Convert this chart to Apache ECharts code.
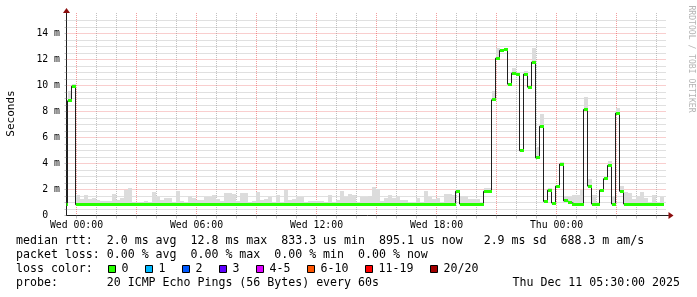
<!DOCTYPE html>
<html><head><meta charset="utf-8">
<script src="https://cdn.jsdelivr.net/npm/echarts@6/dist/echarts.min.js"></script>
<style>html,body{margin:0;padding:0;background:#fff}#c{width:697px;height:297px}</style>
</head><body><div id="c"></div>
<script>
// ---- data (12-minute steps, hours relative to Wed 00:00) ----
const startHour = -0.65;   // start of first step
const stepHours = 0.2;     // 12 minutes
const medianRtt = [
  0.88, 8.82, 9.95,
  0.83,0.83,0.83,0.83,0.83, 0.88, 0.83,0.83,
  0.88,0.88,0.88,0.88,0.88,0.88,0.88,0.88,0.88,0.88,0.88,0.88,
  0.83,0.83,0.83,0.83,0.83, 0.88, 0.83,
  0.88,0.88,0.88,0.88,0.88,0.88,0.88,0.88,0.88,0.88,0.88,0.88,0.88,0.88,
  0.88,0.88,0.88,0.88,0.88,0.88,0.88,0.88,0.88,0.88,0.88,0.88,0.88,0.88,
  0.83,0.83,0.83,0.83,0.83,0.83,0.83,0.83,0.83,0.83,0.83,0.83,0.83,0.83,
  0.88,0.88,0.88, 0.83, 0.88,0.88,0.88,0.88,0.88,0.88,0.88, 0.83, 0.88,0.88, 0.83,
  0.88,0.88, 0.83, 0.88,0.88,0.88, 0.83,0.83, 0.88,0.88,0.88,
  1.87,
  0.88,0.88,0.88,0.88,0.88,0.88,
  1.86,1.86,
  8.9,12.1,12.7,12.8,10.1,10.95,10.88,4.98,10.88,9.87,11.8,4.43,6.87,
  1.08,1.95,0.96,2.26,3.96,1.12,1.0,0.88,0.88,0.88,8.16,2.26,0.88,0.88,
  1.95,2.83,3.86,0.88,7.88,1.86,
  0.88,0.88,0.88,0.88,0.88,0.88,0.88,0.88,0.88,0.88
];
const smokeTop = [
  0.9, 9.6, 10.15,
  1.54,1.28,1.54,1.28,1.33,1.21,1.15,1.08,1.08,1.67,1.23,1.33,2.0,2.15,1.03,0.97,
  1.03,1.08,1.03,1.79,1.41,1.23,1.33,1.33,1.03,1.87,1.08,0.97,1.49,1.33,1.23,1.23,
  1.41,1.41,1.54,1.28,1.15,1.74,1.74,1.67,1.15,1.74,1.74,1.03,1.08,1.79,1.23,1.28,
  1.41,1.03,1.54,0.97,2.0,1.23,1.28,1.41,1.41,1.03,1.08,1.08,1.15,1.15,1.03,1.54,
  1.03,1.23,1.85,1.41,1.67,1.54,0.97,1.41,1.41,1.49,2.18,2.05,1.15,1.33,1.59,1.33,
  1.49,1.23,1.23,0.97,0.97,1.33,1.03,1.85,1.41,1.28,1.33,0.97,1.67,1.67,1.54,2.05,
  1.49,1.49,
  1.3,1.25,1.3,0.95,2.15,2.15,9.55,12.85,12.8,12.88,10.2,11.35,10.95,5.05,11.15,
  9.95,12.9,5.3,7.8,1.15,2.1,1.0,2.3,4.1,1.5,1.42,1.55,1.55,2.0,9.12,2.8,1.55,0.9,
  1.98,2.88,4.2,1.5,8.25,2.25,1.8,1.72,1.3,1.47,1.8,1.35,0.9,1.55,0.9,1.42
];
const xTickLabels = ['Wed 00:00','Wed 06:00','Wed 12:00','Wed 18:00','Thu 00:00'];
const yTickLabels = ['0  ','2 m','4 m','6 m','8 m','10 m','12 m','14 m'];
const lossLegend = [['0','#26ff00'],['1','#00b8ff'],['2','#0059ff'],['3','#5e00ff'],
  ['4-5','#dd00ff'],['6-10','#ff5500'],['11-19','#ff0000'],['20/20','#a10000']];
const legendRows = [
  'median rtt:  2.0 ms avg  12.8 ms max  833.3 us min  895.1 us now   2.9 ms sd  688.3 m am/s',
  'packet loss: 0.00 % avg  0.00 % max  0.00 % min  0.00 % now',
  'loss color:',
  'probe:       20 ICMP Echo Pings (56 Bytes) every 60s'
];
const dateStamp = 'Thu Dec 11 05:30:00 2025';

// ---- build ----
const MONO = '"DejaVu Sans Mono", monospace';
const n = medianRtt.length;
const t = i => startHour + i * stepHours;
const smokeData = medianRtt.map((m, i) => [t(i), t(i + 1), m, smokeTop[i]]);
const bandData = medianRtt.map((m, i) => [t(i), t(i + 1), m]);
const lineData = medianRtt.map((m, i) => [t(i), m]);
lineData.push([t(n), medianRtt[n - 1]]);

const GRID_C = 'rgba(143,143,143,0.55)';
const MGRID_C = 'rgba(233,59,59,0.5)';

function clip(r, cs) {
  return echarts.graphic.clipRectByRect(r, {x: cs.x, y: cs.y, width: cs.width, height: cs.height});
}

const chart = echarts.init(document.getElementById('c'), null, {width: 697, height: 297});

const graphics = [];
const rowY = [241, 255, 269, 283];
legendRows.forEach((s, i) => graphics.push({type: 'text', x: 16, y: rowY[i], silent: true,
  style: {text: s, font: '11.6px ' + MONO, fill: '#000', verticalAlign: 'middle', align: 'left'}}));
graphics.push({type: 'text', x: 680, y: rowY[3], style: {text: dateStamp, font: '11.6px ' + MONO,
  fill: '#000', verticalAlign: 'middle', align: 'right'}});
let bx = 108.5;
lossLegend.forEach(([lab, col]) => {
  graphics.push({type: 'rect', shape: {x: bx, y: 265.5, width: 7, height: 7},
    style: {fill: col, stroke: '#000', lineWidth: 1}});
  graphics.push({type: 'text', x: bx + 13, y: rowY[2], style: {text: lab, font: '11.6px ' + MONO,
    fill: '#000', verticalAlign: 'middle', align: 'left'}});
  bx += 30 + 7 * lab.length;
});
graphics.push({type: 'text', x: 11, y: 113.5, rotation: Math.PI / 2,
  style: {text: 'Seconds', font: '11px ' + MONO, fill: '#000', align: 'center', verticalAlign: 'middle'}});
graphics.push({type: 'text', x: 691, y: 59, rotation: -Math.PI / 2,
  style: {text: 'RRDTOOL / TOBI OETIKER', font: '8.1px ' + MONO, fill: '#b4b4b4', align: 'center', verticalAlign: 'middle'}});

const hidden = {show: false};
chart.setOption({
  animation: false,
  backgroundColor: '#fff',
  grid: [
    {left: 66.5, top: 13, width: 600, height: 202.5, outerBoundsMode: 'none', containLabel: false},
    {left: 76.5, top: 13, width: 580, height: 202.5, outerBoundsMode: 'none', containLabel: false},
    {left: 66.5, top: 20.5, width: 600, height: 195, outerBoundsMode: 'none', containLabel: false},
    {left: 66.5, top: 13, width: 602, height: 202.5, outerBoundsMode: 'none', containLabel: false}
  ],
  xAxis: [
    {gridIndex: 0, type: 'value', min: -0.5, max: 29.5, show: false},
    {gridIndex: 1, type: 'value', min: 0, max: 29, interval: 1,
      axisLine: hidden,
      axisTick: {show: true, length: 3, lineStyle: {color: GRID_C}},
      axisLabel: {show: true, margin: 4.5, fontFamily: MONO, fontSize: 9.8, color: '#000',
        showMinLabel: true, showMaxLabel: true,
        formatter: v => (v % 6 === 0 ? (xTickLabels[v / 6] || '') : '')},
      splitLine: {show: true, lineStyle: {color: [MGRID_C, GRID_C, GRID_C], type: [1, 1], width: 1}}},
    {gridIndex: 2, type: 'value', min: 0, max: 1, show: false},
    {gridIndex: 3, type: 'value', min: 0, max: 1, position: 'bottom',
      axisLine: {show: true, onZero: false, lineStyle: {color: '#1f1f1f', width: 1}},
      axisTick: hidden, axisLabel: hidden, splitLine: hidden},
    {gridIndex: 3, type: 'value', min: 0, max: 1, position: 'bottom',
      axisLine: {show: true, onZero: false, symbol: ['none', 'triangle'], symbolSize: [7, 5],
        symbolOffset: [0, 2.5], lineStyle: {color: '#8b0d0d', width: 0}},
      axisTick: hidden, axisLabel: hidden, splitLine: hidden}
  ],
  yAxis: [
    {gridIndex: 0, type: 'value', min: 0, max: 202.5 / 13, show: false},
    {gridIndex: 1, type: 'value', min: 0, max: 1, show: false},
    {gridIndex: 2, type: 'value', min: 0, max: 15, interval: 0.5,
      axisLine: hidden,
      axisTick: {show: true, length: 2, lineStyle: {color: GRID_C}},
      axisLabel: {show: true, margin: 6.5, fontFamily: MONO, fontSize: 9.8, color: '#000',
        showMinLabel: true, showMaxLabel: true,
        formatter: v => (Math.abs(v % 2) < 1e-9 ? (yTickLabels[Math.round(v / 2)] || '') : '')},
      splitLine: {show: true, lineStyle: {color: [MGRID_C, GRID_C, GRID_C, GRID_C], type: [1, 1], width: 1}}},
    {gridIndex: 3, type: 'value', min: 0, max: 1, position: 'left',
      axisLine: {show: true, onZero: false, lineStyle: {color: '#1f1f1f', width: 1}},
      axisTick: hidden, axisLabel: hidden, splitLine: hidden},
    {gridIndex: 3, type: 'value', min: 0, max: 1, position: 'left',
      axisLine: {show: true, onZero: false, symbol: ['none', 'triangle'], symbolSize: [7, 5],
        symbolOffset: [0, 2.5], lineStyle: {color: '#8b0d0d', width: 0}},
      axisTick: hidden, axisLabel: hidden, splitLine: hidden}
  ],
  series: [
    {type: 'custom', name: 'smoke', xAxisIndex: 0, yAxisIndex: 0, z: 2, silent: true,
      encode: {x: [0, 1], y: [2, 3]}, data: smokeData,
      renderItem: (params, api) => {
        const lo = api.value(2), hi = api.value(3);
        if (!(hi > lo)) return null;
        const p0 = api.coord([api.value(0), hi]);
        const p1 = api.coord([api.value(1), lo]);
        const x0 = Math.round(p0[0]), x1 = Math.round(p1[0]);
        const y0 = Math.round(p0[1]), y1 = Math.round(p1[1]);
        const shape = clip({x: x0, y: y0, width: x1 - x0, height: y1 - y0}, params.coordSys);
        return shape ? {type: 'rect', shape, style: {fill: '#dcdcdc'}} : null;
      }},
    {type: 'line', name: 'median', xAxisIndex: 0, yAxisIndex: 0, z: 3, step: 'end',
      data: lineData, showSymbol: false, symbol: 'none', silent: true,
      lineStyle: {color: '#202020', width: 1}},
    {type: 'custom', name: 'loss0', xAxisIndex: 0, yAxisIndex: 0, z: 4, silent: true,
      encode: {x: [0, 1], y: 2}, data: bandData,
      renderItem: (params, api) => {
        const p0 = api.coord([api.value(0), api.value(2)]);
        const p1 = api.coord([api.value(1), api.value(2)]);
        const x0 = Math.round(p0[0]), x1 = Math.round(p1[0]);
        const y0 = Math.round(p0[1] - 1.5);
        const shape = clip({x: x0, y: y0, width: x1 - x0, height: 3}, params.coordSys);
        return shape ? {type: 'rect', shape, style: {fill: lossLegend[0][1]}} : null;
      }}
  ],
  graphic: graphics
});
</script></body></html>
